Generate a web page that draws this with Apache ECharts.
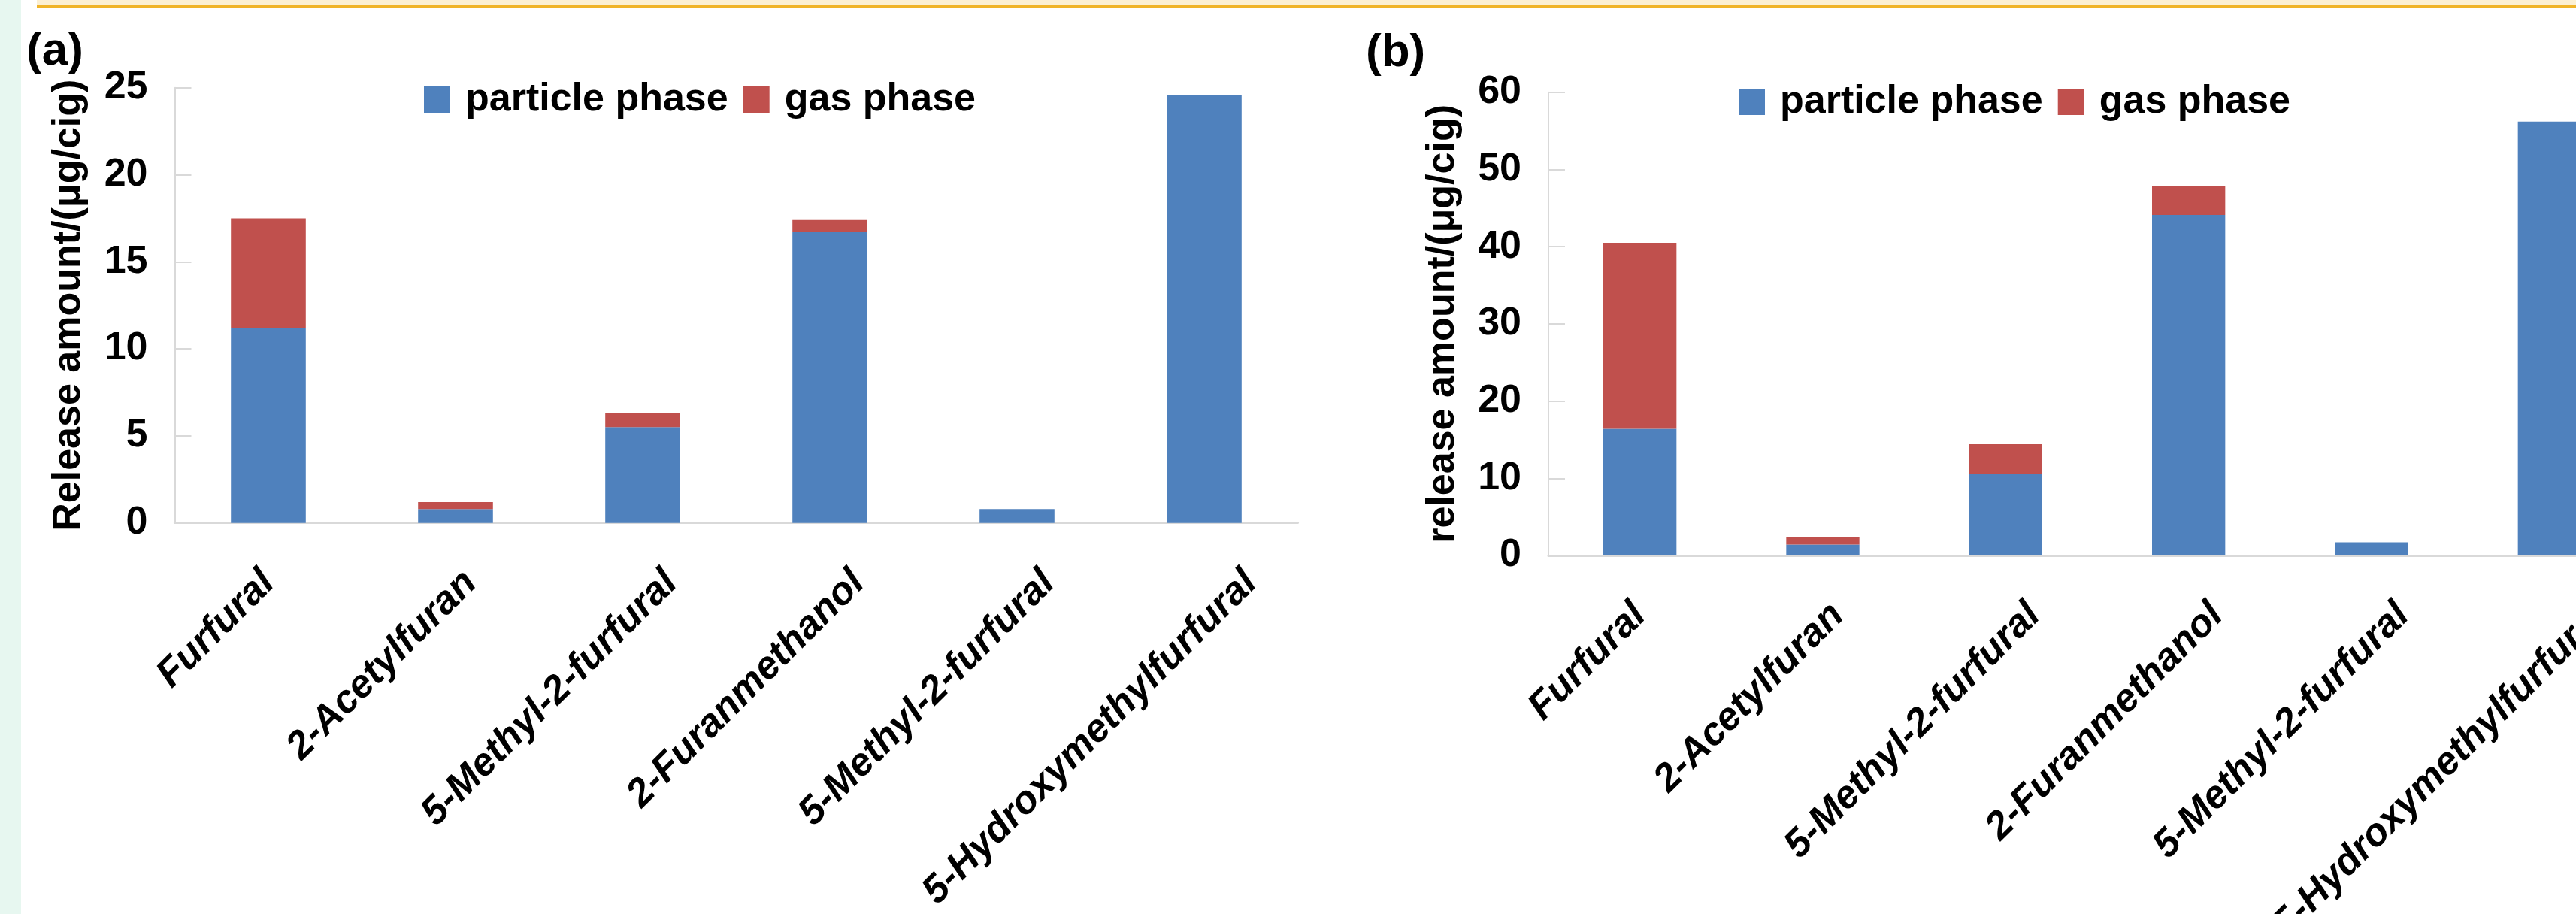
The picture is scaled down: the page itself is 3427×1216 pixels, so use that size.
<!DOCTYPE html>
<html><head><meta charset="utf-8">
<script src="https://cdn.jsdelivr.net/npm/echarts@6/dist/echarts.min.js"></script>
<style>html,body{margin:0;padding:0;background:#fff}#c{width:3427px;height:1216px}</style>
</head><body><div id="c"></div>
<script>
// ---- data ----
const categories = ['Furfural', '2-Acetylfuran', '5-Methyl-2-furfural', '2-Furanmethanol', '5-Methyl-2-furfural', '5-Hydroxymethylfurfural'];
const seriesNames = ['particle phase', 'gas phase'];
const particleA = [11.2, 0.8, 5.5, 16.7, 0.8, 24.6];
const gasA = [6.3, 0.4, 0.8, 0.7, 0, 0];
const particleB = [16.4, 1.4, 10.6, 44.1, 1.7, 56.2];
const gasB = [24.1, 1.0, 3.8, 3.7, 0, 0];
const yTicksA = [0, 5, 10, 15, 20, 25];
const yTicksB = [0, 10, 20, 30, 40, 50, 60];
const yTitleA = 'Release amount/(\u03bcg/cig)';
const yTitleB = 'release amount/(\u03bcg/cig)';
const panelTitles = ['(a)', '(b)'];

// ---- style ----
const FONT = '"Liberation Sans", Arial, Helvetica, sans-serif';
const BLUE = '#4F81BD', RED = '#C0504D', AXIS = '#D9D9D9';
const labelShift = [0, 20, 38, 38, 42, 62]; // horizontal screen shift of rotated labels (px)
const SHIFT_Y = 62;
const rich = {};
labelShift.forEach((d, i) => {
  const b = 0.7071 * (d + SHIFT_Y);
  const pr = 0.7071 * (SHIFT_Y - d);
  rich['s' + i] = {fontFamily: FONT, fontSize: 52, fontWeight: 'bold', fontStyle: 'italic', color: '#000', padding: [2 * b, pr, 0, 0]};
});

function xAxis(gridIndex) {
  return {
    type: 'category', gridIndex, data: categories,
    axisLine: {show: true, lineStyle: {color: AXIS, width: 3}},
    axisTick: {show: false},
    axisLabel: {
      interval: 0, rotate: 45, margin: 72 - SHIFT_Y,
      formatter: (v, i) => '{s' + i + '|' + v + '}', rich
    },
    splitLine: {show: false}
  };
}
function yAxis(gridIndex, ticks, name, gap) {
  return {
    type: 'value', gridIndex,
    min: ticks[0], max: ticks[ticks.length - 1], interval: ticks[1] - ticks[0],
    name, nameLocation: 'middle', nameGap: gap,
    nameTextStyle: {fontFamily: FONT, fontSize: 52, fontWeight: 'bold', color: '#000'},
    axisLine: {show: true, lineStyle: {color: AXIS, width: 2}},
    axisTick: {show: true, inside: true, length: 22, lineStyle: {color: AXIS, width: 2}},
    axisLabel: {margin: 36, fontFamily: FONT, fontSize: 52, fontWeight: 'bold', color: '#000'},
    splitLine: {show: false}
  };
}
function legend(left, top) {
  return {
    left, top, padding: 0, itemWidth: 35, itemHeight: 35, itemGap: 20, selectedMode: false,
    icon: 'rect', data: seriesNames,
    textStyle: {fontFamily: FONT, fontSize: 52, fontWeight: 'bold', color: '#000', lineHeight: 52, padding: [0, 0, 0, 15]}
  };
}
function bar(name, data, color, xi) {
  return {name, type: 'bar', stack: 'p' + xi, xAxisIndex: xi, yAxisIndex: xi, data, barWidth: '40%',
    itemStyle: {color}, emphasis: {disabled: true}};
}

const chart = echarts.init(document.getElementById('c'), null, {renderer: 'canvas'});
chart.setOption({
  animation: false,
  backgroundColor: '#fff',
  grid: [
    {left: 232.5, width: 1494, top: 116.7, height: 579, outerBoundsMode: 'none', containLabel: false},
    {left: 2060, width: 1460, top: 122.8, height: 616.2, outerBoundsMode: 'none', containLabel: false}
  ],
  xAxis: [xAxis(0), xAxis(1)],
  yAxis: [yAxis(0, yTicksA, yTitleA, 115), yAxis(1, yTicksB, yTitleB, 114)],
  legend: [legend(564, 106.5), legend(2313, 109.5)],
  series: [
    bar(seriesNames[0], particleA, BLUE, 0),
    bar(seriesNames[1], gasA, RED, 0),
    bar(seriesNames[0], particleB, BLUE, 1),
    bar(seriesNames[1], gasB, RED, 1)
  ],
  graphic: [
    {type: 'rect', shape: {x: 0, y: 0, width: 28, height: 1216}, style: {fill: '#E7F7F0'}, silent: true},
    {type: 'rect', shape: {x: 49, y: 0, width: 3378, height: 7}, style: {fill: '#FCF0D3'}, silent: true},
    {type: 'rect', shape: {x: 49, y: 7, width: 3378, height: 3}, style: {fill: '#F0B429'}, silent: true},
    {type: 'text', x: 35, y: 38, style: {text: panelTitles[0], font: 'bold 62px ' + FONT, fill: '#000', verticalAlign: 'top'}},
    {type: 'text', x: 1817, y: 40, style: {text: panelTitles[1], font: 'bold 62px ' + FONT, fill: '#000', verticalAlign: 'top'}}
  ]
});
</script></body></html>
